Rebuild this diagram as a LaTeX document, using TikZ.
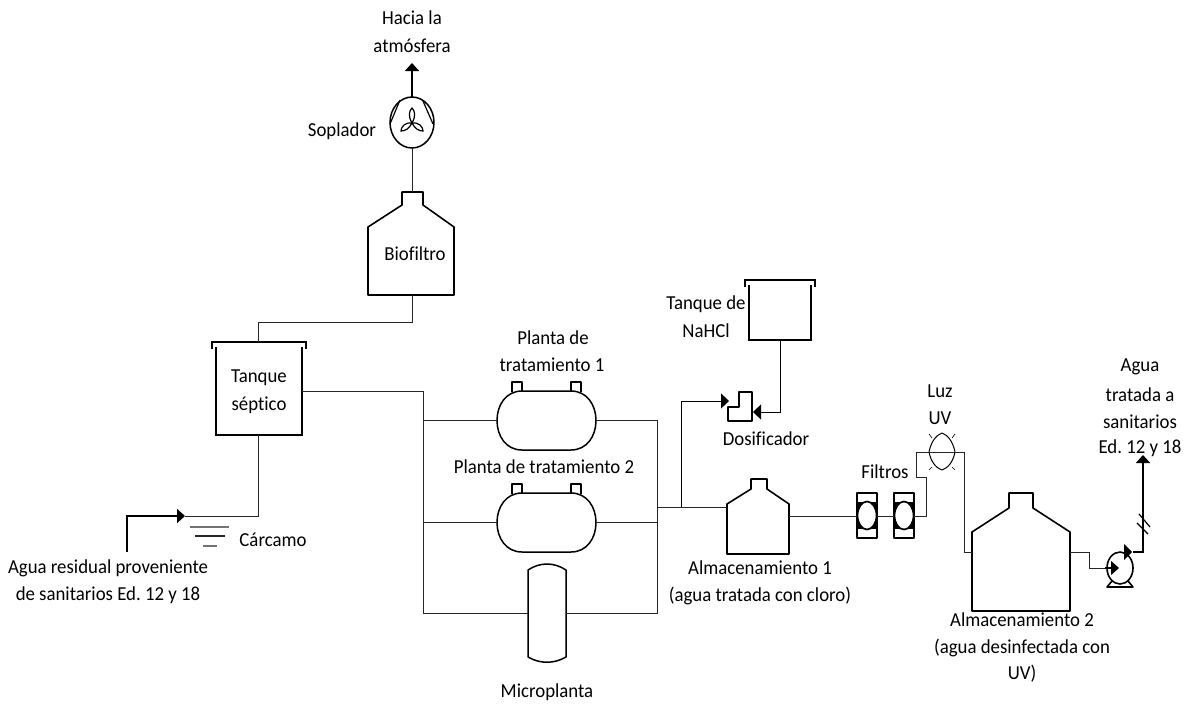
\documentclass[tikz,border=0pt]{standalone}
\usepackage{fontspec}
\setmainfont{Carlito}[RawFeature={-liga},FakeStretch=0.95]
\frenchspacing
\usetikzlibrary{calc,arrows.meta,shapes.geometric}
\tikzset{
  pipe/.style={draw=black!85,line width=0.9pt},
  heavy/.style={draw=black,line width=1.7pt,line join=miter},
  equip/.style={draw=black,line width=1.5pt,line join=round},
  flowtip/.style={-{Triangle[length=8pt,width=14pt]}},
  backtip/.style={{Triangle[length=8pt,width=15pt]}-},
  lbl/.style={inner sep=0pt,font=\fontsize{19.8}{22}\selectfont,text=black,align=center},
  level/.style={draw=black!55,line width=1.1pt}
}
\newcommand{\lidtank}[5]{% x1 x2 ytop ybottom overhang
  \draw[heavy] (#1,#3+5) -- (#1,#4) -- (#2,#4) -- (#2,#3+5);
  \draw[heavy] (#1-#5,#3+7) -- (#1-#5,#3) -- (#2+#5,#3) -- (#2+#5,#3+7);
}
\newcommand{\bottle}[8]{% x1 x2 nx1 nx2 ytop yneck yshoulder ybottom
  \draw[equip,line width=1.6pt] (#1,#8) -- (#1,#7) -- (#3,#6) -- (#3,#5) -- (#4,#5) -- (#4,#6) -- (#2,#7) -- (#2,#8) -- cycle;
}
\newcommand{\plantvessel}[1]{% y top
  \draw[equip] (522,#1) -- (571,#1) .. controls (587,#1) and (596,#1+14) .. (596,#1+29.5)
     .. controls (596,#1+45) and (587,#1+59) .. (571,#1+59) -- (522,#1+59)
     .. controls (506,#1+59) and (497,#1+45) .. (497,#1+29.5)
     .. controls (497,#1+14) and (506,#1) .. (522,#1) -- cycle;
  \draw[equip] (512,#1+1) -- (512,#1-9) -- (522,#1-9) -- (522,#1);
  \draw[equip] (571,#1) -- (571,#1-9) -- (581,#1-9) -- (581,#1+1);
}
\newcommand{\filterunit}[1]{% left x
  \draw[equip] (#1,493) rectangle (#1+20,538);
  \draw[equip] (#1,503) -- (#1+20,503);
  \draw[equip] (#1,528) -- (#1+20,528);
  \fill (#1+1,503) -- (#1+6,503) -- (#1+1,509) -- cycle;
  \fill (#1+19,503) -- (#1+14,503) -- (#1+19,509) -- cycle;
  \fill (#1+1,528) -- (#1+6,528) -- (#1+1,522) -- cycle;
  \fill (#1+19,528) -- (#1+14,528) -- (#1+19,522) -- cycle;
  \draw[equip,fill=white,line width=1.7pt] (#1+10,515.5) ellipse (9.5 and 14);
}
\begin{document}
\begin{tikzpicture}[x=1pt,y=-1pt]
\useasboundingbox (0,0) rectangle (1188,705);
\fill[white] (0,0) rectangle (1188,705);

% named connection points
\coordinate (atm) at (412,63);
\coordinate (blowtop) at (412,97);
\coordinate (blowbot) at (412,148);
\coordinate (biotop) at (412,192);
\coordinate (biobot) at (412,295);
\coordinate (septop) at (258,342);
\coordinate (sepright) at (302,391);
\coordinate (sepbot) at (258,435);
\coordinate (inlet) at (127,552);
\coordinate (sump) at (185,516);
\coordinate (header) at (423,391);
\coordinate (headerb) at (423,613);
\coordinate (p1l) at (497,420);
\coordinate (p1r) at (596,420);
\coordinate (p2l) at (497,522);
\coordinate (p2r) at (596,522);
\coordinate (ml) at (528,613);
\coordinate (mr) at (566,613);
\coordinate (collect) at (657,420);
\coordinate (collectb) at (657,613);
\coordinate (collectout) at (657,507);
\coordinate (a1l) at (727,507);
\coordinate (a1r) at (789,516);
\coordinate (tee) at (681,507);
\coordinate (dosout) at (729,401);
\coordinate (dosin) at (753,412);
\coordinate (naoh) at (780,340);
\coordinate (f1l) at (857,516);
\coordinate (f1r) at (877,516);
\coordinate (f2l) at (894,516);
\coordinate (f2r) at (914,516);
\coordinate (a2l) at (972,552);
\coordinate (a2r) at (1070,552);
\coordinate (pumpin) at (1119,568);
\coordinate (pumpout) at (1133,552);
\coordinate (outtip) at (1143,455);

% equipment: blower
\node[draw=black,line width=1.5pt,ellipse,minimum width=44pt,minimum height=51pt,inner sep=0pt] (blower) at (412,122.5) {};
\draw[line width=1.2pt] (400,100) -- (390,124) (423,101) -- (433,124);
\draw[line width=1.2pt] (412,123) .. controls (408,116) and (409,111) .. (412,108) .. controls (415,111) and (416,116) .. (412,123);
\draw[line width=1.2pt] (412,123) .. controls (409,129) and (405,131) .. (401,131) .. controls (401,127) and (405,122) .. (412,123);
\draw[line width=1.2pt] (412,123) .. controls (415,129) and (419,131) .. (423,131) .. controls (423,127) and (419,122) .. (412,123);

% equipment: vessels
\bottle{368}{454}{402}{423}{192}{205}{227}{295}
\lidtank{216}{302}{342}{435}{4}
\lidtank{749}{811}{280}{340}{4}
\plantvessel{391}
\plantvessel{493}
\draw[equip] (528,570) .. controls (540,562) and (554,562) .. (566,570) -- (566,657) .. controls (554,664) and (540,664) .. (528,657) -- cycle;
\bottle{727}{789}{751}{767}{479}{489}{504}{554}
\bottle{972}{1070}{1009}{1033}{493}{508}{532}{611}

% sump levels
\draw[level] (190,527) -- (229,527);
\draw[level,draw=black!85] (195,536) -- (225,536);
\draw[level] (203,546) -- (217,546);

% dosing unit
\draw[equip,line width=1.6pt] (739,392) -- (752,392) -- (752,421) -- (728,421) -- (728,407) -- (739,407) -- cycle;

% filters
\filterunit{857}
\filterunit{894}

% UV lamp
\draw[equip,line width=1pt] (929,452) .. controls (931,442) and (936,435) .. (942,433) .. controls (948,435) and (953,442) .. (955,452) .. controls (953,462) and (948,468) .. (942,470) .. controls (936,468) and (931,462) .. (929,452) -- cycle;
\draw[line width=0.6pt] (929,434) -- (932,438) (955,434) -- (952,438) (929,470) -- (932,467) (955,470) -- (952,467);

% pump
\node[draw=black,line width=1.6pt,ellipse,minimum width=26pt,minimum height=32pt,inner sep=0pt] (pump) at (1120,568) {};
\draw[line width=1.6pt,line join=round] (1112,581) -- (1107,587) -- (1133,587) -- (1128,581);

% connectors
\draw[heavy,flowtip] (blowtop) -- (atm);
\draw[pipe] (blowbot) -- (biotop);
\draw[pipe] (biobot) -- (412,322) -- (258,322) -- (septop);
\draw[pipe] (sepright) -- (header) -- (headerb) -- (ml);
\draw[pipe] (header |- p1l) -- (p1l);
\draw[pipe] (header |- p2l) -- (p2l);
\draw[pipe] (mr) -- (collectb) -- (collect) -- (p1r);
\draw[pipe] (p2r) -- (collect |- p2r);
\draw[pipe] (collectout) -- (a1l);
\draw[pipe] (sepbot) |- (sump);
\draw[heavy,flowtip] (inlet) |- (sump);
\draw[pipe,backtip,draw=black] (dosout) -| (tee);
\draw[pipe,backtip,draw=black] (dosin) -| (naoh);
\draw[pipe] (a1r) -- (f1l);
\draw[pipe] (f1r) -- (f2l);
\draw[pipe] (f2r) -- (926,516) -- (926,477) -- (916,477) -- (916,452) -- (964,452) -- (964,552) -- (a2l);
\draw[pipe] (a2r) -- (1089,552) -- (1089,568) -- (1105,568);
\draw[heavy,flowtip,line width=1.2pt] (1105,568) -- (pumpin);
\fill (1124,544) -- (1132,552) -- (1124,560) -- cycle;
\draw[heavy] (pumpout) -- (1143,552) -- (1143,462);
\draw[heavy,flowtip] (1143,470) -- (outtip);
\draw[line width=1.2pt] (1137,523) -- (1148,534) (1139,514) -- (1150,527);

% labels
\node[lbl] (t1) at (412,18) {Hacia la};
\node[lbl] (t2) at (412,46) {atmósfera};
\node[lbl] (t3) at (342,131) {Soplador};
\node[lbl] (t4) at (415,254) {Biofiltro};
\node[lbl] (t5) at (259,378) {Tanque};
\node[lbl] (t6) at (259,405) {séptico};
\node[lbl] (t7) at (273,540) {Cárcamo};
\node[lbl] (t8) at (108,568) {Agua residual proveniente};
\node[lbl] (t9) at (108,595) {de sanitarios Ed. 12 y 18};
\node[lbl] (t10) at (553,338) {Planta de};
\node[lbl] (t11) at (552,365) {tratamiento 1};
\node[lbl] (t12) at (544,467) {Planta de tratamiento 2};
\node[lbl] (t13) at (547,692) {Microplanta};
\node[lbl] (t14) at (706,304) {Tanque de};
\node[lbl] (t15) at (706,331) {NaHCl};
\node[lbl] (t16) at (766,439) {Dosificador};
\node[lbl] (t17) at (760,568) {Almacenamiento 1};
\node[lbl] (t18) at (760,596) {(agua tratada con cloro)};
\node[lbl] (t19) at (885,472) {Filtros};
\node[lbl] (t20) at (940,391) {Luz};
\node[lbl] (t21) at (940,418) {UV};
\node[lbl] (t22) at (1022,620) {Almacenamiento 2};
\node[lbl] (t23) at (1022,648) {(agua desinfectada con};
\node[lbl] (t24) at (1022,674) {UV)};
\node[lbl] (t25) at (1140,367) {Agua};
\node[lbl] (t26) at (1140,395) {tratada a};
\node[lbl] (t27) at (1140,422) {sanitarios};
\node[lbl] (t28) at (1140,448) {Ed. 12 y 18};
\end{tikzpicture}
\end{document}
